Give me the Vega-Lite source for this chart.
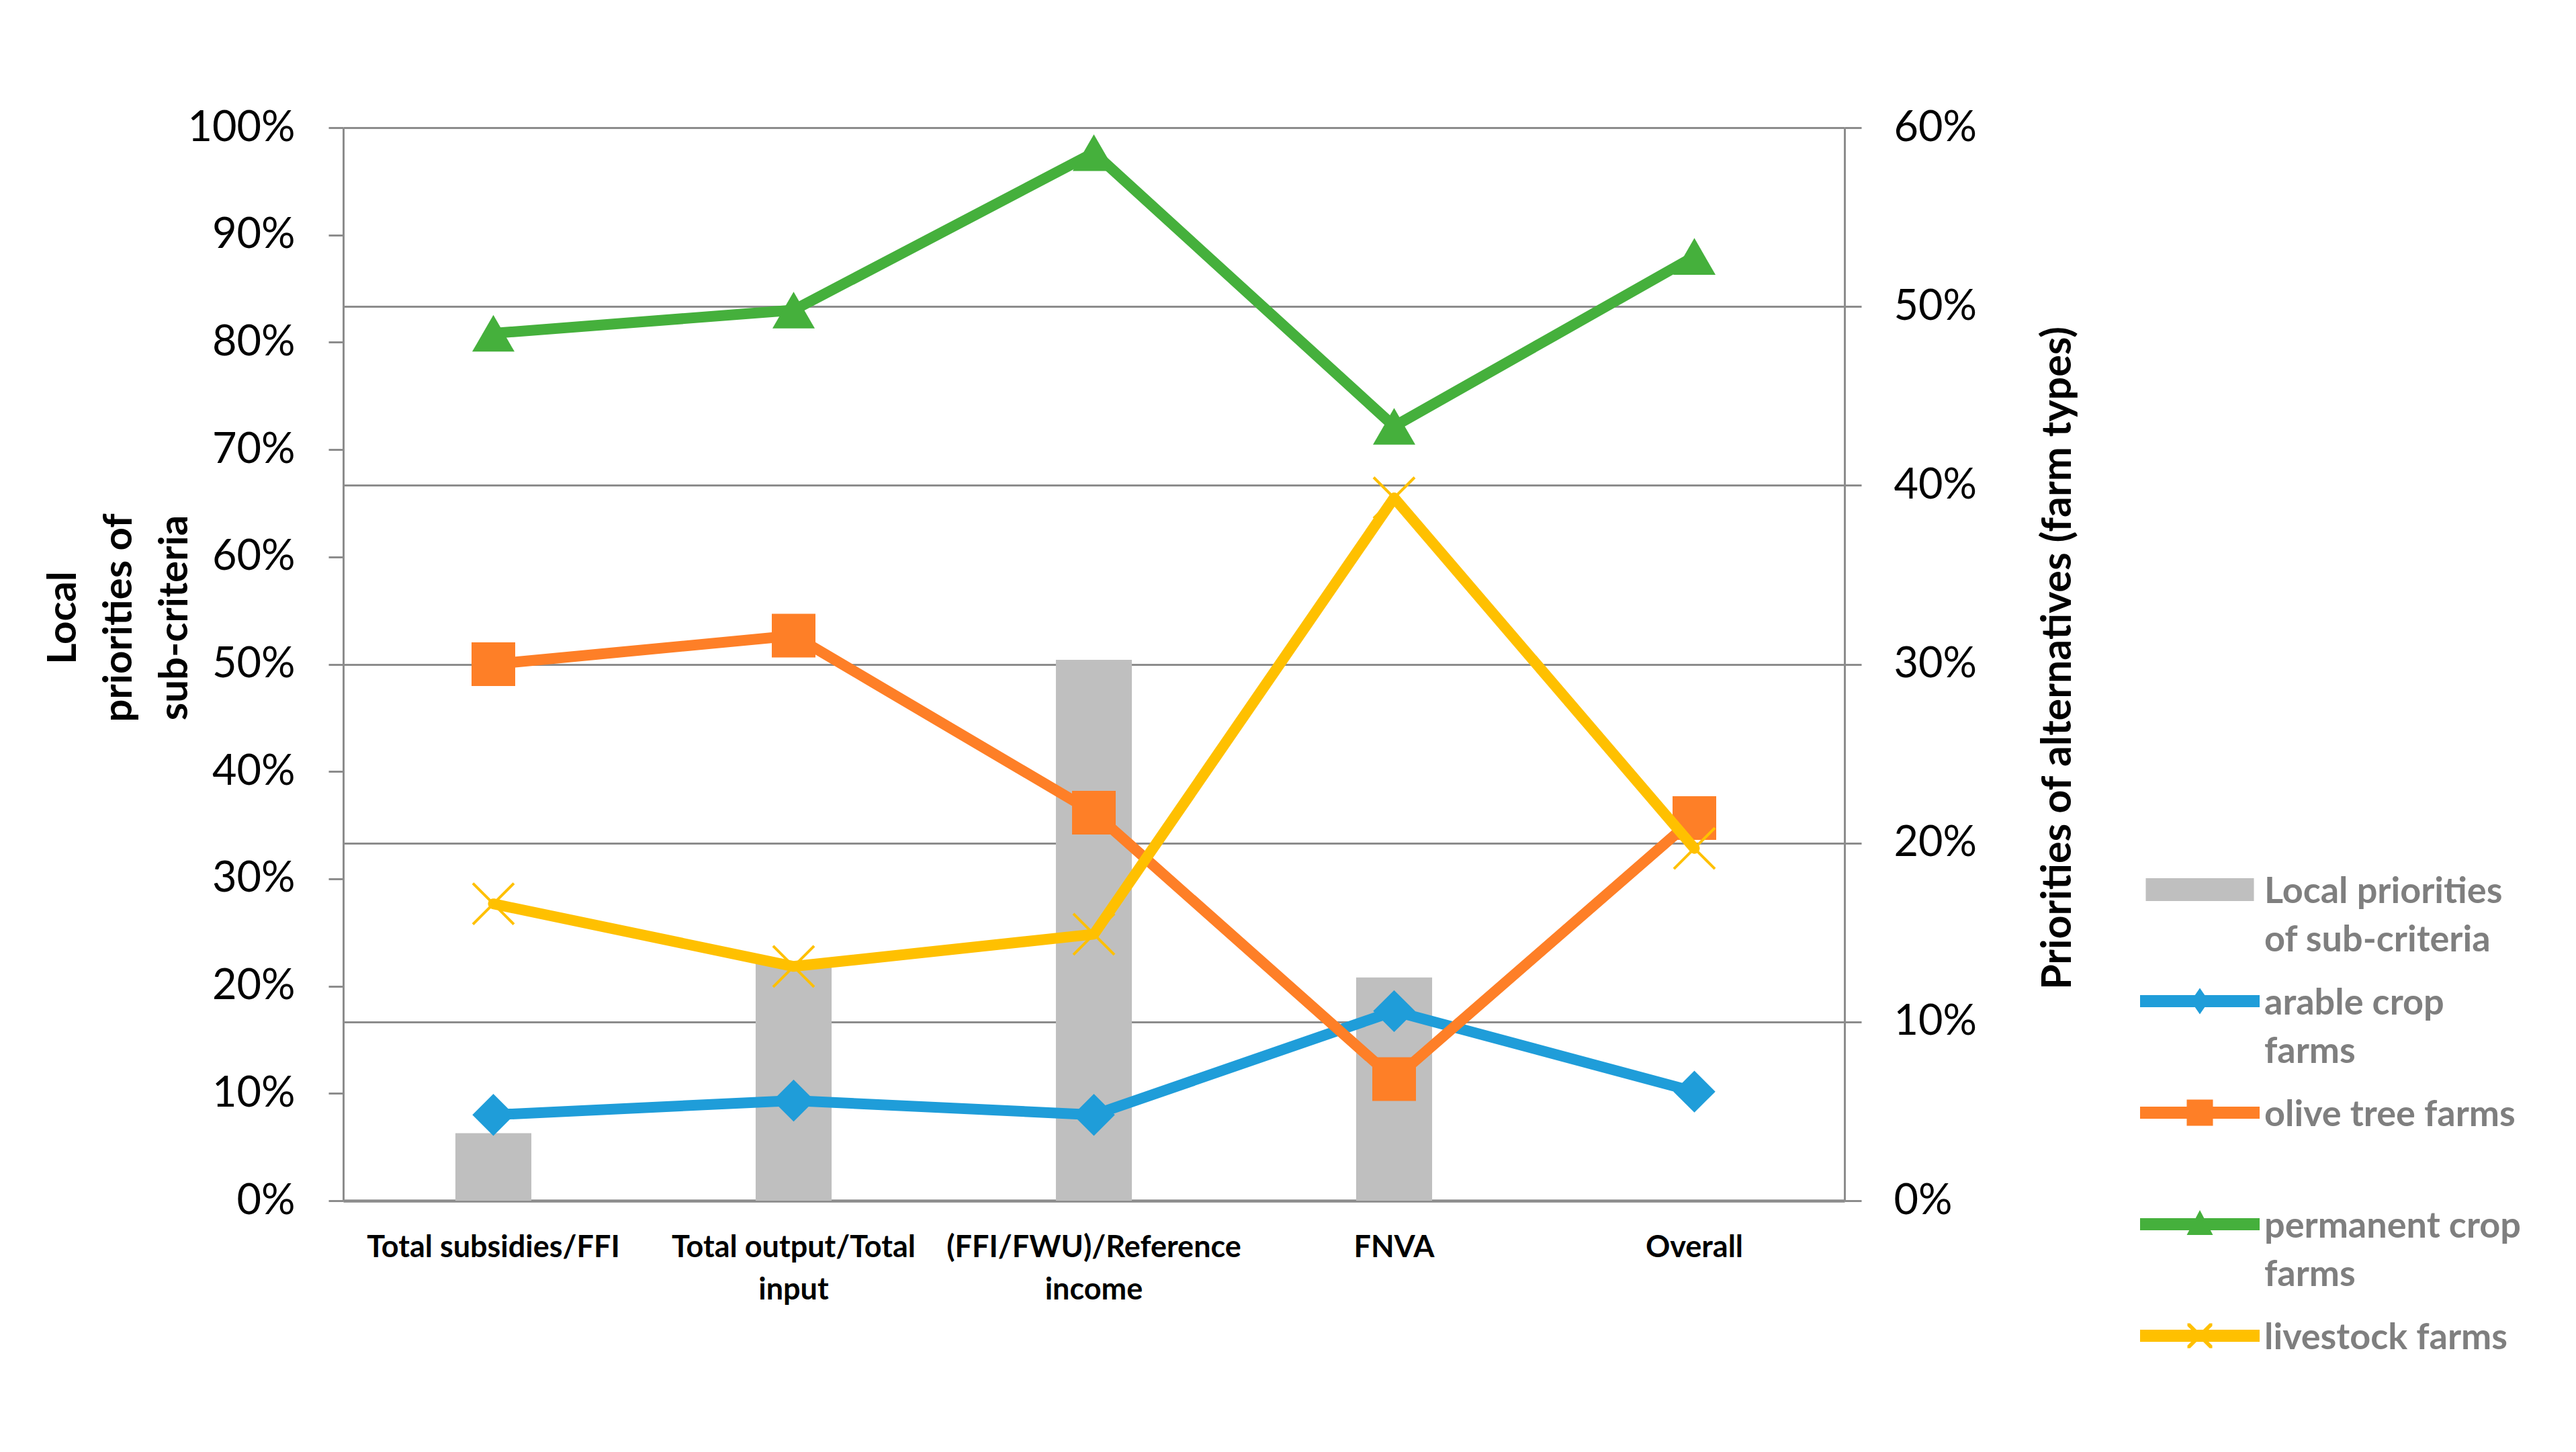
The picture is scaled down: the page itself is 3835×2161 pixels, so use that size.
{
  "$schema": "https://vega.github.io/schema/vega-lite/v6.json",
  "width": 2235,
  "height": 1597,
  "autosize": {"type": "none"},
  "padding": {"left": 511, "top": 190, "right": 1089, "bottom": 374},
  "background": "white",
  "config": {
    "view": {"stroke": null},
    "font": "Lato",
    "axis": {"labelFont": "Lato", "titleFont": "Lato"},
    "legend": {"labelFont": "Lato"}
  },
  "data": {
    "values": [
      {"criterion": "Total subsidies/FFI", "series": "Local priorities of sub-criteria", "value": 0.063},
      {"criterion": "Total output/Total input", "series": "Local priorities of sub-criteria", "value": 0.222},
      {"criterion": "(FFI/FWU)/Reference income", "series": "Local priorities of sub-criteria", "value": 0.504},
      {"criterion": "FNVA", "series": "Local priorities of sub-criteria", "value": 0.208},
      {"criterion": "Total subsidies/FFI", "series": "arable crop farms", "value": 0.048},
      {"criterion": "Total output/Total input", "series": "arable crop farms", "value": 0.056},
      {"criterion": "(FFI/FWU)/Reference income", "series": "arable crop farms", "value": 0.048},
      {"criterion": "FNVA", "series": "arable crop farms", "value": 0.106},
      {"criterion": "Overall", "series": "arable crop farms", "value": 0.061},
      {"criterion": "Total subsidies/FFI", "series": "olive tree farms", "value": 0.300},
      {"criterion": "Total output/Total input", "series": "olive tree farms", "value": 0.316},
      {"criterion": "(FFI/FWU)/Reference income", "series": "olive tree farms", "value": 0.217},
      {"criterion": "FNVA", "series": "olive tree farms", "value": 0.068},
      {"criterion": "Overall", "series": "olive tree farms", "value": 0.214},
      {"criterion": "Total subsidies/FFI", "series": "permanent crop farms", "value": 0.485},
      {"criterion": "Total output/Total input", "series": "permanent crop farms", "value": 0.498},
      {"criterion": "(FFI/FWU)/Reference income", "series": "permanent crop farms", "value": 0.586},
      {"criterion": "FNVA", "series": "permanent crop farms", "value": 0.433},
      {"criterion": "Overall", "series": "permanent crop farms", "value": 0.528},
      {"criterion": "Total subsidies/FFI", "series": "livestock farms", "value": 0.166},
      {"criterion": "Total output/Total input", "series": "livestock farms", "value": 0.131},
      {"criterion": "(FFI/FWU)/Reference income", "series": "livestock farms", "value": 0.149},
      {"criterion": "FNVA", "series": "livestock farms", "value": 0.393},
      {"criterion": "Overall", "series": "livestock farms", "value": 0.197}
    ]
  },
  "encoding": {
    "x": {
      "field": "criterion",
      "type": "nominal",
      "sort": ["Total subsidies/FFI", "Total output/Total input", "(FFI/FWU)/Reference income", "FNVA", "Overall"],
      "scale": {"paddingInner": 0, "paddingOuter": 0},
      "axis": {
        "title": null,
        "labelAngle": 0,
        "ticks": false,
        "labelFont": "Lato",
        "labelFontWeight": "bold",
        "labelFontSize": 45,
        "labelColor": "black",
        "labelPadding": 47,
        "labelLineHeight": 63,
        "labelBaseline": "top",
        "labelLimit": 1000,
        "domainColor": "#8c8c8c",
        "domainWidth": 4.5,
        "labelExpr": "datum.label == 'Total output/Total input' ? ['Total output/Total', 'input'] : datum.label == '(FFI/FWU)/Reference income' ? ['(FFI/FWU)/Reference', 'income'] : datum.label"
      }
    },
    "color": {
      "field": "series",
      "type": "nominal",
      "scale": {
        "domain": ["Local priorities of sub-criteria", "arable crop farms", "olive tree farms", "permanent crop farms", "livestock farms"],
        "range": ["#bfbfbf", "#1f9dd9", "#fe7f27", "#45b03c", "#ffc000"]
      },
      "legend": {
        "orient": "none",
        "legendX": 2737,
        "legendY": 1107,
        "title": null,
        "padding": 0,
        "symbolSize": 400,
        "labelOffset": 69,
        "labelFont": "Lato",
        "labelFontWeight": "bold",
        "labelFontSize": 54,
        "labelColor": "#7f7f7f",
        "labelLimit": 2000,
        "labelBaseline": "alphabetic",
        "rowPadding": 36,
        "labelExpr": "datum.label == 'Local priorities of sub-criteria' ? ['Local priorities', 'of sub-criteria'] : datum.label == 'arable crop farms' ? ['arable crop', 'farms'] : datum.label == 'permanent crop farms' ? ['permanent crop', 'farms'] : [datum.label, '']",
        "encode": {
          "symbols": {
            "update": {
              "shape": {"signal": "datum.value == 'Local priorities of sub-criteria' ? 'M-8.05,-1.7H8.05V1.7H-8.05Z' : datum.value == 'arable crop farms' ? 'M-8.9,-0.9H8.9V0.9H-8.9Z M0,-1.95L1.35,0L0,1.95L-1.35,0Z' : datum.value == 'olive tree farms' ? 'M-8.9,-0.9H8.9V0.9H-8.9Z M-1.95,-1.95H1.95V1.95H-1.95Z' : datum.value == 'permanent crop farms' ? 'M-8.9,-0.9H8.9V0.9H-8.9Z M0,-2.1L1.95,1.6L-1.95,1.6Z' : 'M-8.9,-0.9H8.9V0.9H-8.9Z M-1.85,-1.85L-1.45,-1.85L1.85,1.45L1.85,1.85L1.45,1.85L-1.85,-1.45Z M1.85,-1.85L1.85,-1.45L-1.45,1.85L-1.85,1.85L-1.85,1.45L1.45,-1.85Z'"},
              "fill": {"scale": "color", "field": "value"},
              "stroke": {"value": "transparent"},
              "strokeWidth": {"value": 0},
              "opacity": {"value": 1},
              "size": {"value": 400}
            }
          },
          "labels": {
            "update": {
              "dy": {"value": 20},
              "lineHeight": {"value": 72}
            }
          }
        }
      }
    }
  },
  "layer": [
    {
      "transform": [{"filter": "datum.series == 'Local priorities of sub-criteria'"}],
      "mark": {"type": "bar", "width": {"band": 0.253}},
      "encoding": {
        "y": {
          "field": "value",
          "type": "quantitative",
          "scale": {"domain": [0, 1]},
          "axis": {
            "orient": "left",
            "values": [0, 0.1, 0.2, 0.3, 0.4, 0.5, 0.6, 0.7, 0.8, 0.9, 1],
            "format": ".0%",
            "grid": false,
            "tickSize": 22,
            "tickColor": "#8c8c8c",
            "tickWidth": 3,
            "domainColor": "#8c8c8c",
            "domainWidth": 3,
            "labelFont": "Lato",
            "labelFontSize": 63,
            "labelColor": "black",
            "labelPadding": 50,
            "title": ["Local", "priorities of", "sub-criteria"],
            "titleFont": "Lato",
            "titleFontSize": 60,
            "titleFontWeight": "bold",
            "titleColor": "black",
            "titleLineHeight": 83,
            "titleAngle": 270,
            "titleAlign": "center",
            "titleBaseline": "alphabetic",
            "titleX": -399,
            "titleY": 729
          }
        }
      }
    },
    {
      "encoding": {
        "y": {
          "field": "value",
          "type": "quantitative",
          "scale": {"domain": [0, 0.6]},
          "axis": {
            "orient": "right",
            "values": [0, 0.1, 0.2, 0.3, 0.4, 0.5, 0.6],
            "format": ".0%",
            "grid": true,
            "gridColor": "#8c8c8c",
            "gridWidth": 3,
            "tickSize": 25,
            "tickColor": "#8c8c8c",
            "tickWidth": 3,
            "domainColor": "#8c8c8c",
            "domainWidth": 3,
            "labelFont": "Lato",
            "labelFontSize": 63,
            "labelColor": "black",
            "labelPadding": 48,
            "title": "Priorities of alternatives (farm types)",
            "titleFont": "Lato",
            "titleFontSize": 61,
            "titleFontWeight": "bold",
            "titleColor": "black",
            "titleAngle": 270,
            "titleAlign": "center",
            "titleBaseline": "alphabetic",
            "titleX": 336,
            "titleY": 789
          }
        }
      },
      "layer": [
        {
          "transform": [{"filter": "datum.series == 'arable crop farms'"}],
          "mark": {"type": "line", "strokeWidth": 16, "strokeCap": "round", "strokeJoin": "round", "point": {"shape": "diamond", "size": 3900, "filled": true}}
        },
        {
          "transform": [{"filter": "datum.series == 'olive tree farms'"}],
          "mark": {"type": "line", "strokeWidth": 16, "strokeCap": "round", "strokeJoin": "round", "point": {"shape": "square", "size": 4225, "filled": true}}
        },
        {
          "transform": [{"filter": "datum.series == 'permanent crop farms'"}],
          "mark": {"type": "line", "strokeWidth": 16, "strokeCap": "round", "strokeJoin": "round", "point": {"shape": "triangle-up", "size": 3970, "filled": true}}
        },
        {
          "transform": [{"filter": "datum.series == 'livestock farms'"}],
          "mark": {"type": "line", "strokeWidth": 16, "strokeCap": "round", "strokeJoin": "round", "point": {"shape": "M-1,-1L1,1M-1,1L1,-1", "size": 3721, "filled": false, "strokeWidth": 4}}
        }
      ]
    }
  ],
  "resolve": {"scale": {"y": "independent"}}
}
